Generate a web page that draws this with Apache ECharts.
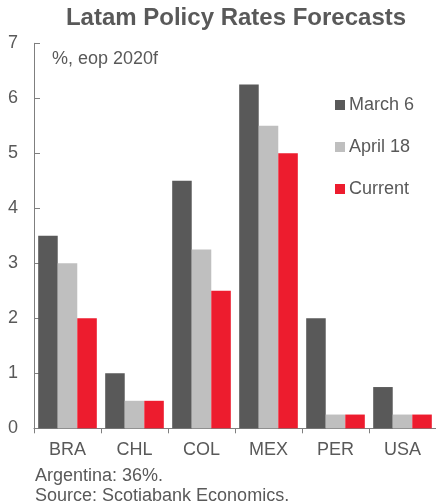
<!DOCTYPE html>
<html>
<head>
<meta charset="utf-8">
<script src="https://cdn.jsdelivr.net/npm/echarts@6/dist/echarts.min.js"></script>
<style>
  html, body { margin: 0; padding: 0; background: #fff; }
  #chart { width: 436px; height: 504px; }
</style>
</head>
<body>
<div id="chart"></div>
<script>
// Policy rate forecasts, % end of period 2020
const categories = ['BRA', 'CHL', 'COL', 'MEX', 'PER', 'USA'];
const march6 = [3.5, 1.0, 4.5, 6.25, 2.0, 0.75];
const april18 = [3.0, 0.5, 3.25, 5.5, 0.25, 0.25];
const current = [2.0, 0.5, 2.5, 5.0, 0.25, 0.25];
const seriesNames = ['March 6', 'April 18', 'Current'];
const yTicks = [0, 1, 2, 3, 4, 5, 6, 7];

const FONT = '"Liberation Sans", Arial, sans-serif';
const TEXT = '#595959';
const AXIS = '#7f7f7f';

const chart = echarts.init(document.getElementById('chart'), null, { renderer: 'canvas' });

chart.setOption({
  animation: false,
  backgroundColor: '#ffffff',
  textStyle: { fontFamily: FONT, color: TEXT },
  legend: {
    orient: 'vertical',
    left: 330,
    top: 89,
    itemWidth: 10,
    itemHeight: 10,
    itemGap: 20,
    icon: 'rect',
    data: seriesNames,
    textStyle: { fontFamily: FONT, fontSize: 18, color: TEXT, lineHeight: 22, padding: [0, 0, 0, -1] }
  },
  grid: { left: 34, top: 43.3, width: 404.5, height: 385 },
  xAxis: {
    type: 'category',
    data: categories,
    axisLine: { lineStyle: { color: AXIS, width: 1 } },
    axisTick: { show: true, length: 5, inside: false, lineStyle: { color: AXIS } },
    axisLabel: { fontFamily: FONT, fontSize: 18, color: TEXT, margin: 13 }
  },
  yAxis: {
    type: 'value',
    min: yTicks[0],
    max: yTicks[yTicks.length - 1],
    interval: 1,
    splitLine: { show: false },
    axisLine: { show: true, lineStyle: { color: AXIS, width: 1 } },
    axisTick: { show: true, inside: true, length: 6, lineStyle: { color: AXIS } },
    axisLabel: { fontFamily: FONT, fontSize: 18, color: TEXT, margin: 16 }
  },
  series: [
    { name: seriesNames[0], type: 'bar', data: march6, itemStyle: { color: '#595959' }, barGap: '0%', barCategoryGap: '12.5%' },
    { name: seriesNames[1], type: 'bar', data: april18, itemStyle: { color: '#bfbfbf' } },
    { name: seriesNames[2], type: 'bar', data: current, itemStyle: { color: '#ed1c2e' } }
  ],
  graphic: [
    {
      type: 'text', x: 236, y: 18,
      style: {
        text: 'Latam Policy Rates Forecasts', font: 'bold 24px ' + FONT, fill: TEXT,
        align: 'center', verticalAlign: 'middle'
      }
    },
    { type: 'text', left: 52, top: 50, style: { text: '%, eop 2020f', font: '18px ' + FONT, fill: TEXT } },
    { type: 'text', left: 35, top: 467, style: { text: 'Argentina: 36%.', font: '18px ' + FONT, fill: TEXT } },
    { type: 'text', left: 35, top: 487, style: { text: 'Source: Scotiabank Economics.', font: '18px ' + FONT, fill: TEXT } }
  ]
});
</script>
</body>
</html>
